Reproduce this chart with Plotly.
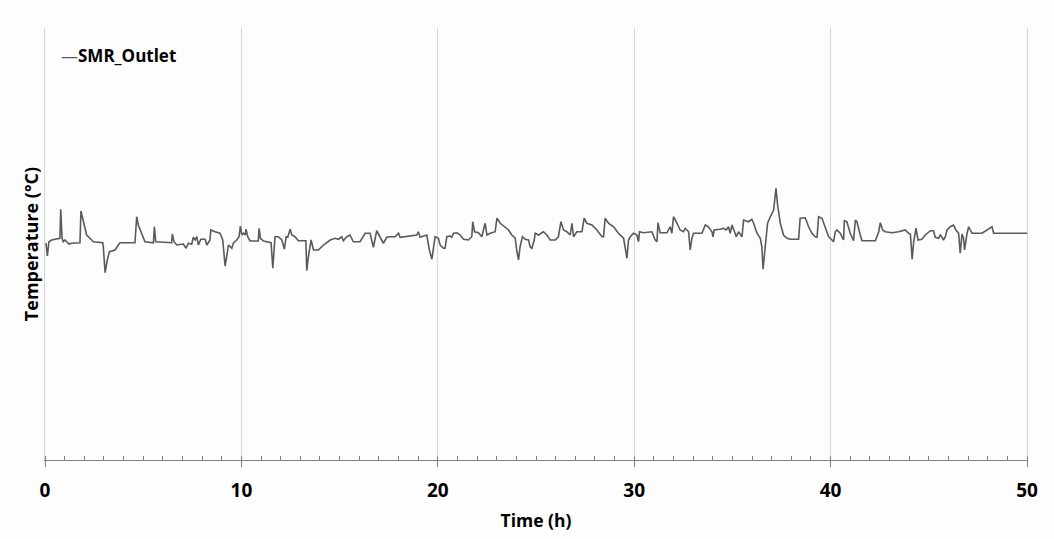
import plotly.graph_objects as go

# Time (h) and SMR outlet temperature (°C, axis unlabeled in the source)
time_h = [0.05, 0.12, 0.20, 0.34, 0.51, 0.68, 0.76, 0.80, 0.87, 0.93, 1.02, 1.11, 1.22, 1.36, 1.78, 1.83, 1.95, 2.12, 2.29, 2.38,
          2.46, 2.94, 2.97, 3.06, 3.17, 3.28, 3.40, 3.57, 3.73, 3.82, 4.58, 4.67, 4.75, 4.93, 5.09, 5.52, 5.57, 5.64, 6.45, 6.48,
          6.57, 6.71, 7.04, 7.18, 7.30, 7.47, 7.55, 7.64, 7.73, 7.81, 7.93, 8.15, 8.24, 8.40, 8.44, 8.66, 8.91, 9.05, 9.12, 9.17,
          9.25, 9.34, 9.51, 9.59, 9.76, 9.88, 9.95, 10.02, 10.10, 10.19, 10.24, 10.32, 10.44, 10.86, 10.90, 10.97, 11.12, 11.37, 11.51, 11.60,
          11.71, 11.88, 12.06, 12.19, 12.28, 12.36, 12.48, 12.57, 12.73, 12.90, 13.28, 13.33, 13.41, 13.55, 13.67, 13.92, 14.18, 14.52, 14.77, 14.94,
          15.11, 15.19, 15.37, 15.53, 15.70, 16.04, 16.30, 16.55, 16.72, 16.89, 17.06, 17.23, 17.40, 17.57, 17.83, 18.00, 18.08, 18.50, 18.93, 19.01,
          19.10, 19.44, 19.57, 19.70, 19.86, 20.03, 20.12, 20.29, 20.37, 20.46, 20.63, 20.71, 20.80, 20.97, 21.14, 21.31, 21.56, 21.73, 21.78, 21.87,
          22.07, 22.24, 22.41, 22.50, 22.67, 22.92, 23.01, 23.18, 23.43, 23.60, 23.77, 23.94, 24.03, 24.11, 24.19, 24.31, 24.45, 24.62, 24.70, 24.79,
          24.91, 24.96, 25.13, 25.26, 25.38, 25.55, 25.72, 25.98, 26.14, 26.27, 26.40, 26.57, 26.74, 26.83, 26.91, 27.08, 27.34, 27.45, 27.59, 27.85,
          28.10, 28.36, 28.44, 28.52, 28.69, 28.95, 29.20, 29.46, 29.54, 29.63, 29.71, 29.80, 29.96, 30.14, 30.22, 30.27, 30.47, 30.82, 30.90, 31.07,
          31.16, 31.21, 31.32, 31.67, 31.83, 31.92, 32.00, 32.18, 32.34, 32.51, 32.60, 32.77, 32.85, 32.94, 33.02, 33.45, 33.62, 33.78, 33.96, 34.01,
          34.07, 34.38, 34.55, 34.69, 34.80, 34.89, 34.98, 35.06, 35.20, 35.31, 35.49, 35.57, 35.82, 35.99, 36.08, 36.25, 36.42, 36.50, 36.56, 36.64,
          36.72, 36.79, 36.93, 37.01, 37.10, 37.22, 37.30, 37.44, 37.60, 37.78, 37.95, 38.37, 38.45, 38.71, 38.88, 39.05, 39.22, 39.31, 39.39, 39.56,
          39.73, 39.90, 40.07, 40.15, 40.24, 40.32, 40.49, 40.66, 40.70, 40.83, 41.00, 41.17, 41.26, 41.34, 41.51, 41.60, 42.28, 42.45, 42.53, 42.65,
          42.78, 43.13, 43.46, 43.80, 43.97, 44.06, 44.11, 44.15, 44.23, 44.35, 44.45, 44.65, 44.82, 45.08, 45.24, 45.33, 45.50, 45.59, 45.67, 45.75,
          45.84, 45.93, 46.09, 46.26, 46.38, 46.52, 46.60, 46.69, 46.77, 46.82, 46.95, 47.03, 47.11, 47.20, 47.71, 48.05, 48.22, 48.30, 50.00]

temp_c = [868, 816, 873, 880, 883, 887, 887, 1003, 887, 873, 880, 873, 864, 867, 869, 996, 960, 900, 887, 880,
          873, 869, 853, 749, 800, 833, 837, 840, 860, 869, 869, 973, 940, 907, 873, 869, 933, 873, 869, 904,
          873, 860, 864, 847, 867, 863, 891, 880, 893, 860, 883, 883, 860, 880, 920, 913, 907, 880, 827, 776,
          813, 860, 847, 867, 880, 893, 936, 900, 907, 900, 923, 893, 876, 876, 927, 887, 876, 873, 869, 767,
          893, 893, 880, 843, 893, 891, 923, 900, 893, 877, 877, 757, 813, 880, 840, 840, 860, 880, 887, 883,
          893, 877, 893, 900, 873, 873, 907, 907, 851, 917, 893, 867, 891, 893, 893, 907, 891, 896, 900, 913,
          891, 900, 840, 803, 893, 887, 860, 847, 847, 893, 896, 891, 907, 909, 900, 883, 880, 893, 953, 913,
          909, 893, 947, 900, 907, 913, 967, 947, 933, 920, 900, 887, 833, 800, 853, 893, 883, 880, 853, 847,
          880, 907, 900, 907, 913, 900, 880, 880, 893, 953, 920, 913, 900, 947, 893, 913, 913, 967, 947, 940,
          920, 893, 893, 967, 947, 933, 907, 887, 853, 807, 880, 893, 907, 900, 873, 913, 909, 913, 913, 880,
          873, 949, 909, 909, 933, 907, 973, 947, 920, 913, 927, 913, 840, 887, 907, 907, 940, 933, 913, 893,
          920, 923, 927, 920, 933, 907, 940, 923, 893, 913, 893, 960, 953, 963, 947, 907, 887, 853, 763, 827,
          907, 947, 973, 987, 1000, 1087, 1020, 947, 900, 887, 883, 883, 967, 969, 933, 907, 893, 891, 973, 967,
          927, 893, 880, 873, 913, 920, 907, 880, 957, 953, 907, 877, 960, 953, 900, 877, 877, 913, 949, 920,
          913, 909, 913, 920, 907, 904, 853, 803, 873, 927, 880, 883, 900, 917, 917, 891, 887, 900, 891, 880,
          893, 920, 933, 940, 920, 907, 827, 904, 887, 840, 907, 933, 920, 907, 907, 923, 933, 907, 907]

x_tick_vals = [0, 10, 20, 30, 40, 50]
x_tick_text = ["0", "10", "20", "30", "40", "50"]
series_name = "SMR_Outlet"

FONT = "Open Sans"
LINE_COLOR = "#5a5a5a"
GRID_COLOR = "#d6d6d6"

fig = go.Figure()
fig.add_trace(go.Scatter(
    x=time_h, y=temp_c, mode="lines", name=series_name,
    line=dict(color=LINE_COLOR, width=1.6),
    showlegend=False,
))

fig.update_layout(
    width=1054, height=539,
    margin=dict(l=45, r=27, t=28, b=79),
    paper_bgcolor="#fdfdfd", plot_bgcolor="#fdfdfd",
    font=dict(family=FONT, color="#000000"),
    xaxis=dict(
        range=[0, 50],
        tickvals=x_tick_vals, ticktext=x_tick_text,
        tickfont=dict(family=FONT, size=19, color="#000000", weight="bold"),
        ticklabelstandoff=7,
        showgrid=True, gridcolor=GRID_COLOR, gridwidth=1,
        showline=True, linecolor="#808080", linewidth=1,
        ticks="outside", ticklen=6, tickcolor="#808080",
        minor=dict(dtick=1, ticks="inside", ticklen=4, tickcolor="#808080", showgrid=False),
        zeroline=False,
        title=dict(text="<b>Time (h)</b>", font=dict(family=FONT, size=17.5, color="#000000"), standoff=12),
    ),
    yaxis=dict(
        range=[0, 1728],
        showticklabels=False, showgrid=False, zeroline=False,
        showline=True, mirror=True, linecolor=GRID_COLOR, linewidth=1, ticks="",
        title=dict(text="<b>Temperature (°C)</b>", font=dict(family=FONT, size=18, color="#000000"), standoff=0),
        automargin=False,
    ),
    annotations=[dict(
        x=0.014, y=0.9375, xref="paper", yref="paper", xanchor="left", yanchor="middle",
        text=f"<span style='color:{LINE_COLOR}'>—</span><b>{series_name}</b>",
        showarrow=False, font=dict(family=FONT, size=17, color="#000000"),
    )],
)

fig.write_html("out.html")
